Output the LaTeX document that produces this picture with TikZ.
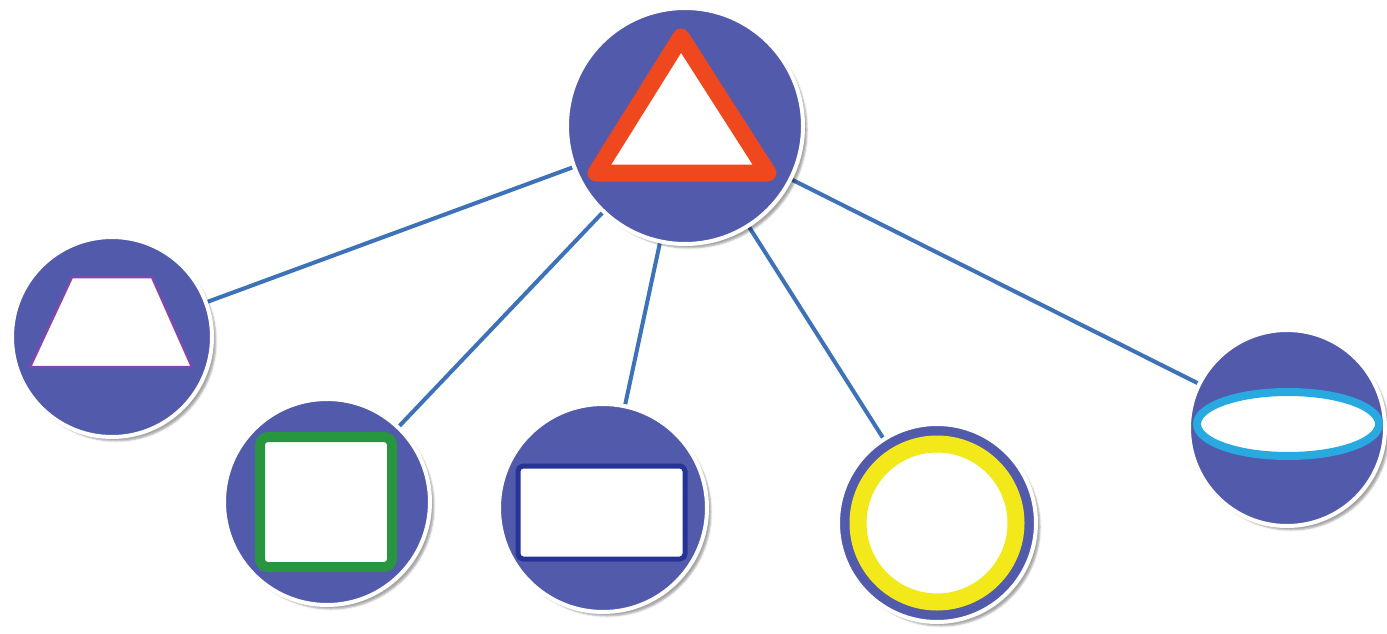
\documentclass[tikz,border=0pt]{standalone}
\usetikzlibrary{shadows.blur,backgrounds}

\definecolor{discblue}{RGB}{82,90,172}
\definecolor{linkblue}{RGB}{61,114,184}
\definecolor{signred}{RGB}{240,72,30}
\definecolor{trapviolet}{RGB}{128,72,170}
\definecolor{squaregreen}{RGB}{40,150,64}
\definecolor{rectnavy}{RGB}{38,52,150}
\definecolor{ringyellow}{RGB}{242,232,26}
\definecolor{ovalcyan}{RGB}{40,170,225}

\begin{document}
\begin{tikzpicture}[x=1pt, y=-1pt,
    % --- Styles ---
    % Blue disc with white rim and soft shadow
    disc/.style={circle, fill=discblue, draw=white, line width=4pt,
        inner sep=0pt, minimum size=#1,
        blur shadow={shadow xshift=4pt, shadow yshift=-4pt, shadow opacity=35}},
    link/.style={draw=linkblue, line width=4pt},
    % White shape inside a disc
    glyph/.style={fill=white, line join=round}
]

%================CONFIGURATION================
\useasboundingbox (0,0) rectangle (1387,634);
%=============================================

% Discs
\node[disc=236] (tri)    at (685,126) {};
\node[disc=200] (trap)   at (112,337) {};
\node[disc=206] (square) at (327,502) {};
\node[disc=208] (rect)   at (603,508) {};
\node[disc=198] (ring)   at (937,523) {};
\node[disc=196] (oval)   at (1287,428) {};

% Connectors, kept under the discs
\begin{pgfonlayer}{background}
\foreach \child in {trap,square,rect,ring,oval}
    \draw[link] (tri) -- (\child);
\end{pgfonlayer}

% --- Glyphs ---
\begin{scope}[shift={(tri.center)}]
    \draw[glyph, draw=signred, line width=17pt]
        (-4,-89) -- (83,47) -- (-89,47) -- cycle;
\end{scope}

\begin{scope}[shift={(trap.center)}]
    \draw[glyph, draw=trapviolet, line width=2.5pt]
        (-40,-60) -- (40,-60) -- (80,30) -- (-82,30) -- cycle;
\end{scope}

\begin{scope}[shift={(square.center)}]
    \draw[glyph, draw=squaregreen, line width=10pt, rounded corners=8pt]
        (-67,-65) rectangle (65,65);
\end{scope}

\begin{scope}[shift={(rect.center)}]
    \draw[glyph, draw=rectnavy, line width=5pt, rounded corners=5pt]
        (-85,-42) rectangle (82,51);
\end{scope}

\begin{scope}[shift={(ring.center)}]
    \draw[glyph, draw=ringyellow, line width=17pt] (0,0) circle (79);
\end{scope}

\begin{scope}[shift={(oval.center)}]
    \draw[glyph, draw=ovalcyan, line width=8pt]
        (1,-4) ellipse [x radius=91, y radius=32];
\end{scope}

\end{tikzpicture}
\end{document}
